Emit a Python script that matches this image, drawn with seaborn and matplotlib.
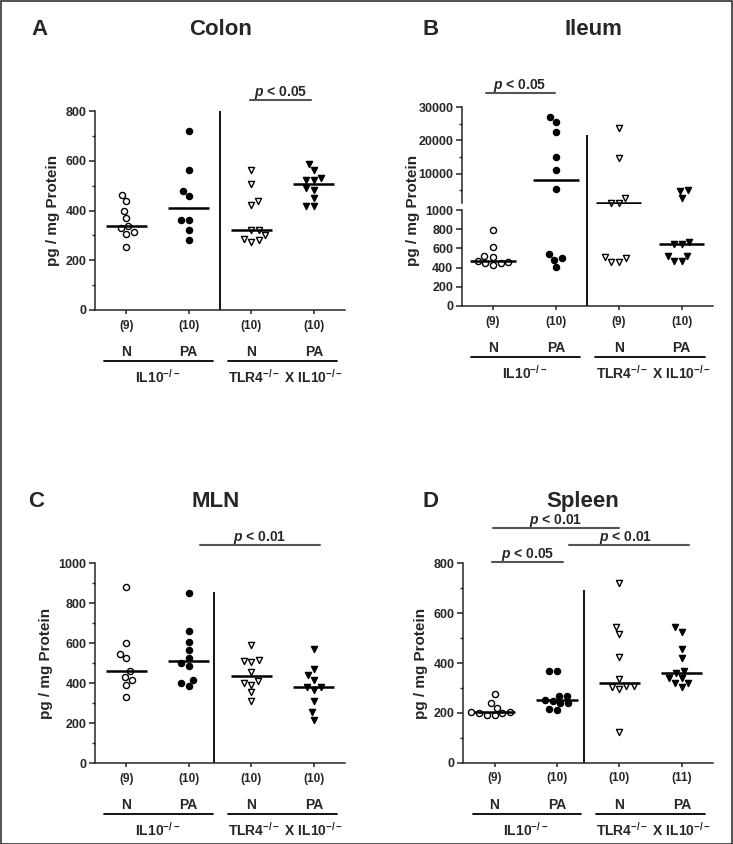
import numpy as np
import pandas as pd
import matplotlib
matplotlib.use("Agg")
import matplotlib.pyplot as plt
import seaborn as sns
from matplotlib.patches import Rectangle
from matplotlib.ticker import MultipleLocator, FixedLocator
from matplotlib.transforms import offset_copy
import warnings
warnings.filterwarnings("ignore")

# ---------------- data ----------------
groups = ["IL10 N", "IL10 PA", "TLR4 N", "TLR4 PA"]
markers = ["o", "o", "v", "v"]
filled = [False, True, False, True]

colon_il10_n = [464, 438, 399, 370, 336, 329, 313, 307, 255]
colon_il10_pa = [719, 562, 480, 460, 363, 363, 321, 282]
colon_tlr4_n = [562, 507, 437, 421, 323, 320, 301, 285, 282, 272]
colon_tlr4_pa = [585, 562, 531, 524, 524, 491, 484, 450, 419, 419]
colon_counts = ["(9)", "(10)", "(10)", "(10)"]

ileum_il10_n = [792, 615, 521, 507, 469, 461, 451, 445, 427]
ileum_il10_pa = [27090, 25580, 22400, 14880, 10970, 5260, 538, 503, 479, 403]
ileum_tlr4_n = [23600, 14580, 2560, 1060, 1060, 514, 497, 462, 462]
ileum_tlr4_pa = [5060, 4760, 2560, 670, 646, 646, 524, 524, 469, 469]
ileum_counts = ["(9)", "(10)", "(9)", "(10)"]

mln_il10_n = [883, 602, 547, 525, 462, 432, 418, 393, 330]
mln_il10_pa = [850, 662, 605, 565, 525, 500, 487, 418, 402, 388]
mln_tlr4_n = [592, 517, 512, 505, 457, 410, 403, 393, 355, 310]
mln_tlr4_pa = [570, 473, 440, 417, 382, 382, 367, 312, 253, 217]
mln_counts = ["(9)", "(10)", "(10)", "(10)"]

spleen_il10_n = [276, 238, 221, 205, 202, 198, 198, 193, 193]
spleen_il10_pa = [368, 368, 268, 268, 252, 249, 238, 238, 215, 211]
spleen_tlr4_n = [720, 543, 516, 425, 334, 308, 308, 305, 294, 124]
spleen_tlr4_pa = [543, 526, 456, 419, 368, 361, 339, 339, 321, 321, 305]
spleen_counts = ["(9)", "(10)", "(10)", "(11)"]

# ---------------- style ----------------
sns.set_style("ticks")
plt.rcParams["font.family"] = ["Liberation Sans", "DejaVu Sans"]
plt.rcParams["font.weight"] = "bold"
plt.rcParams["mathtext.fontset"] = "custom"
plt.rcParams["mathtext.rm"] = "Liberation Sans:bold"
plt.rcParams["mathtext.it"] = "Liberation Sans:italic:bold"
plt.rcParams["mathtext.bf"] = "Liberation Sans:bold"
plt.rcParams["axes.linewidth"] = 1.1

W, H = 733, 844
fig = plt.figure(figsize=(W / 100, H / 100), dpi=100)


def frac(left, top, right, bottom):
    return [left / W, 1 - bottom / H, (right - left) / W, (bottom - top) / H]


PT = r"$\mathit{p}$ < "
GRAY = "#555555"


def make_df(vals_list):
    rows = []
    for g, vals in zip(groups, vals_list):
        for v in vals:
            rows.append((g, v))
    return pd.DataFrame(rows, columns=["group", "value"])


def draw_points(ax, df, lo=None, hi=None, noclip=False):
    for g, m, f in zip(groups, markers, filled):
        sub = df[df["group"] == g]
        if lo is not None:
            sub = sub[sub["value"] >= lo]
        if hi is not None:
            sub = sub[sub["value"] < hi]
        if len(sub) == 0:
            continue
        sns.swarmplot(data=sub, x="group", y="value", order=groups, ax=ax,
                      marker=m, size=4.4, color="black" if f else "white",
                      edgecolor="black", linewidth=1.0, zorder=3)
    if noclip:
        for c in ax.collections:
            c.set_clip_on(False)


def medians(ax, df, lo=None, hi=None, half=0.33):
    for i, g in enumerate(groups):
        med = np.median(df[df["group"] == g]["value"])
        if lo is not None and med < lo:
            continue
        if hi is not None and med >= hi:
            continue
        ax.hlines(med, i - half, i + half, color="black", lw=1.8, zorder=4)


def style_axis(ax, counts, ymax, major, minor):
    ax.set_xlim(-0.5, 3.5)
    ax.set_ylim(0, ymax)
    ax.yaxis.set_major_locator(MultipleLocator(major))
    if minor:
        ax.yaxis.set_minor_locator(MultipleLocator(minor))
    sns.despine(ax=ax)
    ax.set_xticks(range(4))
    ax.set_xticklabels(counts, fontsize=8.5, fontweight="bold")
    ax.tick_params(axis="x", length=3, width=1.1, pad=4)
    ax.tick_params(axis="y", which="major", length=4, width=1.1, labelsize=9, pad=2)
    ax.tick_params(axis="y", which="minor", length=2.5, width=1.0)
    for lab in ax.get_yticklabels():
        lab.set_fontweight("bold")
    ax.set_xlabel("")
    ax.set_ylabel("pg / mg Protein", fontsize=11, fontweight="bold", labelpad=4)


def group_labels(ax):
    tr = ax.get_xaxis_transform()
    kw = dict(xycoords=tr, textcoords="offset pixels", ha="center", va="center",
              fontweight="bold", annotation_clip=False)
    for x, t in zip(range(4), ["N", "PA", "N", "PA"]):
        ax.annotate(t, xy=(x, 0), xytext=(0, -42), fontsize=10, **kw)
    ax.annotate(r"IL10$^{-/-}$", xy=(0.5, 0), xytext=(0, -67), fontsize=10, **kw)
    ax.annotate(r"TLR4$^{-/-}$ X IL10$^{-/-}$", xy=(2.55, 0), xytext=(0, -67),
                fontsize=10, **kw)
    trl = offset_copy(ax.get_xaxis_transform(), fig=fig, x=0, y=-51, units="dots")
    for x0, x1 in [(-0.35, 1.38), (1.62, 3.37)]:
        ax.plot([x0, x1], [0, 0], transform=trl, color="black", lw=1.3, clip_on=False)


def pbar(ax, x0, x1, y, text, tx=None):
    ax.plot([x0, x1], [y, y], color=GRAY, lw=1.5, clip_on=False)
    if tx is None:
        tx = (x0 + x1) / 2
    ax.annotate(PT + text, xy=(tx, y), xytext=(0, 4), textcoords="offset pixels",
                ha="center", va="baseline", fontsize=10, fontweight="bold",
                annotation_clip=False)


# ---------------- Panel A: Colon ----------------
axA = fig.add_axes(frac(95, 111, 345, 310))
dfA = make_df([colon_il10_n, colon_il10_pa, colon_tlr4_n, colon_tlr4_pa])
draw_points(axA, dfA)
medians(axA, dfA)
style_axis(axA, colon_counts, 800, 200, 100)
axA.vlines(1.5, 0, 800, color="black", lw=1.3)
pbar(axA, 1.98, 2.95, 844, "0.05")
group_labels(axA)

# ---------------- Panel B: Ileum (broken axis) ----------------
axBl = fig.add_axes(frac(461.7, 210, 713, 306))
axBu = fig.add_axes(frac(461.7, 107, 713, 203.5))
dfB = make_df([ileum_il10_n, ileum_il10_pa, ileum_tlr4_n, ileum_tlr4_pa])
draw_points(axBl, dfB, hi=1000)
draw_points(axBu, dfB, lo=1000, noclip=True)
medians(axBl, dfB, hi=1000, half=0.36)
medians(axBu, dfB, lo=1000, half=0.36)
style_axis(axBl, ileum_counts, 1000, 200, None)
axBl.set_ylabel("")
axBu.set_xlim(-0.5, 3.5)
axBu.set_ylim(1000, 30000)
axBu.yaxis.set_major_locator(FixedLocator([10000, 20000, 30000]))
axBu.yaxis.set_minor_locator(FixedLocator([5000, 15000, 25000]))
sns.despine(ax=axBu, bottom=True)
axBu.set_xticks([])
axBu.set_xlabel("")
axBu.set_ylabel("")
axBu.tick_params(axis="y", which="major", length=4, width=1.1, labelsize=9, pad=2)
axBu.tick_params(axis="y", which="minor", length=2.5, width=1.0)
for lab in axBu.get_yticklabels():
    lab.set_fontweight("bold")
fig.text(413 / W, 1 - 210 / H, "pg / mg Protein", rotation=90, ha="center",
         va="center", fontsize=11, fontweight="bold")
axBl.vlines(1.5, 0, 1000, color="black", lw=1.3, clip_on=False)
axBu.vlines(1.5, -1000, 21600, color="black", lw=1.3, clip_on=False)
pbar(axBu, -0.12, 0.98, 34100, "0.05")
group_labels(axBl)

# ---------------- Panel C: MLN ----------------
axC = fig.add_axes(frac(95, 563.3, 345, 763))
dfC = make_df([mln_il10_n, mln_il10_pa, mln_tlr4_n, mln_tlr4_pa])
draw_points(axC, dfC)
medians(axC, dfC)
style_axis(axC, mln_counts, 1000, 200, 100)
axC.vlines(1.4, 0, 857, color="black", lw=1.3)
pbar(axC, 1.18, 3.1, 1093, "0.01", tx=2.14)
group_labels(axC)

# ---------------- Panel D: Spleen ----------------
axD = fig.add_axes(frac(463.3, 563.3, 713, 762.7))
dfD = make_df([spleen_il10_n, spleen_il10_pa, spleen_tlr4_n, spleen_tlr4_pa])
draw_points(axD, dfD)
medians(axD, dfD)
style_axis(axD, spleen_counts, 800, 200, 100)
axD.vlines(1.43, 0, 693, color="black", lw=1.3)
pbar(axD, -0.02, 1.99, 943, "0.01")
pbar(axD, -0.04, 1.09, 806, "0.05")
pbar(axD, 1.19, 3.11, 873, "0.01", tx=2.1)
group_labels(axD)

# ---------------- titles & panel letters ----------------
for x, y, t, ha in [(31, 27, "A", "left"), (221, 27, "Colon", "center"),
                    (423, 27, "B", "left"), (593, 27, "Ileum", "center"),
                    (28, 499, "C", "left"), (216, 499, "MLN", "center"),
                    (423, 499, "D", "left"), (583, 499, "Spleen", "center")]:
    fig.text(x / W, 1 - y / H, t, ha=ha, va="center_baseline", fontsize=16,
             fontweight="bold")

fig.patches.append(Rectangle((0.5 / W, 0.5 / H), 1 - 1.5 / W, 1 - 1.5 / H,
                             transform=fig.transFigure, fill=False,
                             edgecolor="#333333", lw=1.2))

fig.savefig("out.png", dpi=100)
